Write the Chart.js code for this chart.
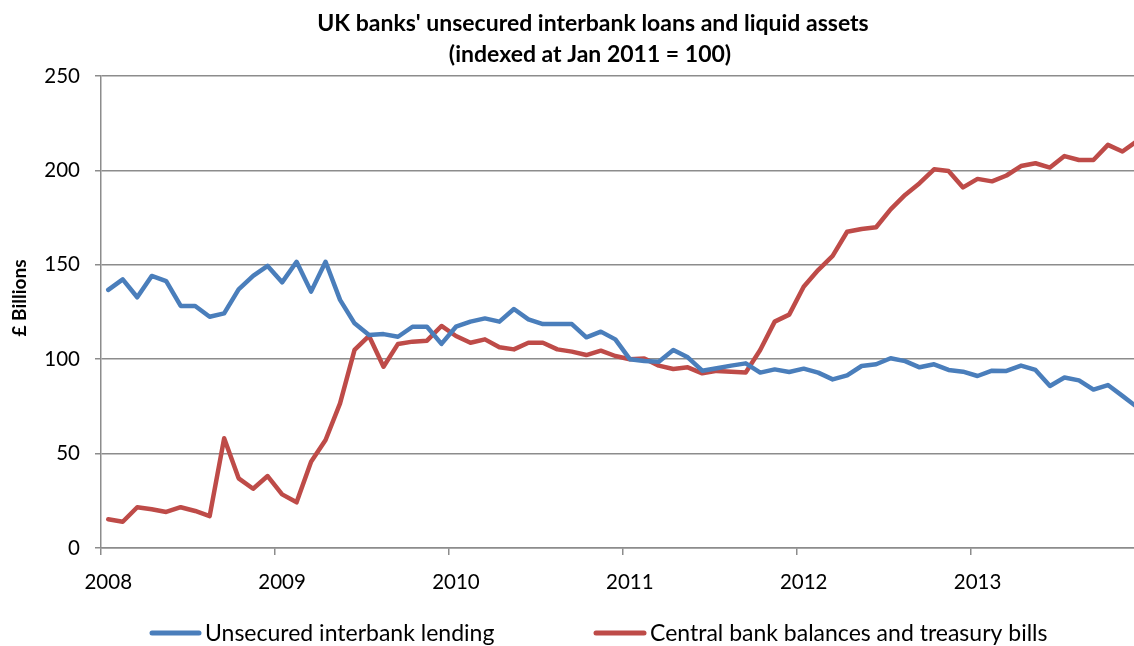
<!DOCTYPE html>
<html>
<head>
<meta charset="utf-8">
<script src="https://cdn.jsdelivr.net/npm/chart.js@4/dist/chart.umd.min.js"></script>
<style>
  html, body { margin: 0; padding: 0; background: #ffffff; }
  #chart { display: block; }
</style>
</head>
<body>
<canvas id="chart" width="1134" height="646"></canvas>
<script>
// Monthly series, Jan 2008 to Dec 2013 (index, Jan 2011 = 100)
const yearLabels = ['2008', '2009', '2010', '2011', '2012', '2013'];
const monthsPerYear = 12;

const interbankLending = [
  136.7, 142.3, 132.8, 144.1, 141.4, 128.2, 128.2, 122.5, 124.3, 137.0, 144.1, 149.4,
  140.7, 151.6, 135.8, 151.6, 131.4, 119.0, 112.8, 113.3, 111.9, 117.2, 117.2, 108.1,
  117.2, 119.9, 121.6, 119.9, 126.6, 121.1, 118.6, 118.6, 118.6, 111.6, 114.6, 110.5,
  100.0,  99.0,  98.7, 104.9, 101.0,  93.9,  95.2,  96.6,  97.8,  92.9,  94.6,  93.2,
   95.0,  92.9,  89.3,  91.4,  96.4,  97.3, 100.5,  99.0,  95.7,  97.3,  94.3,  93.4,
   91.1,  93.9,  93.8,  96.6,  94.3,  85.8,  90.3,  88.8,  83.9,  86.3,  80.6,  74.7
];

const centralBankAssets = [
   15.2,  13.9,  21.6,  20.5,  19.1,  21.6,  19.6,  16.9,  58.1,  36.9,  31.4,  38.1,
   28.4,  24.2,  45.7,  57.2,  76.6, 104.9, 112.3,  96.0, 108.1, 109.3, 109.8, 117.6,
  112.3, 108.7, 110.5, 106.3, 105.2, 108.7, 108.7, 105.2, 104.0, 102.2, 104.5, 101.7,
  100.0, 100.4,  96.6,  94.8,  95.7,  92.5,  93.8,  93.4,  93.0, 104.9, 119.9, 123.6,
  138.4, 147.2, 154.7, 167.5, 169.0, 169.9, 179.4, 187.0, 193.2, 200.6, 199.7, 191.0,
  195.5, 194.2, 197.3, 202.3, 203.8, 201.5, 207.6, 205.5, 205.5, 213.5, 210.0, 215.5
];

const seriesNames = ['Unsecured interbank lending', 'Central bank balances and treasury bills'];
const seriesColors = ['#4A7EBB', '#BE4B48'];
const titleLines = ["UK banks' unsecured interbank loans and liquid assets", '(indexed at Jan 2011 = 100)'];
const yAxisTitle = '£ Billions';
const yTickValues = [0, 50, 100, 150, 200, 250];

// Each value sits at the middle of its month on a month-count axis
const toPoints = (values) => values.map((v, i) => ({ x: i + 0.5, y: v }));

const gridColor = '#8c8c8c';
const fontFamily = 'Lato, "Open Sans", sans-serif';

// Title, rotated axis title and legend drawn on the canvas
const chartDecorations = {
  id: 'chartDecorations',
  afterDraw(chart) {
    const ctx = chart.ctx;
    ctx.save();
    ctx.fillStyle = '#000000';
    ctx.textAlign = 'center';
    ctx.textBaseline = 'middle';
    ctx.font = 'bold 23px ' + fontFamily;
    ctx.fillText(titleLines[0], 593, 24);
    ctx.fillText(titleLines[1], 590, 55);

    ctx.save();
    ctx.translate(20, 298);
    ctx.rotate(-Math.PI / 2);
    ctx.font = 'bold 19px ' + fontFamily;
    ctx.fillText(yAxisTitle, 0, 0);
    ctx.restore();

    // legend entries
    const legendY = 633;
    const entries = [
      { x0: 150, x1: 201, tx: 205 },
      { x0: 594, x1: 646, tx: 650 }
    ];
    ctx.font = '23px ' + fontFamily;
    ctx.textAlign = 'left';
    entries.forEach((e, k) => {
      const ds = chart.data.datasets[k];
      ctx.strokeStyle = ds.borderColor;
      ctx.lineWidth = 5;
      ctx.lineCap = 'round';
      ctx.beginPath();
      ctx.moveTo(e.x0 + 2, legendY);
      ctx.lineTo(e.x1 - 2, legendY);
      ctx.stroke();
      ctx.fillText(ds.label, e.tx, legendY + 1);
    });
    ctx.restore();
  }
};

new Chart(document.getElementById('chart'), {
  type: 'line',
  data: {
    datasets: [
      {
        label: seriesNames[0],
        data: toPoints(interbankLending),
        borderColor: seriesColors[0],
        backgroundColor: seriesColors[0],
        borderWidth: 4.5,
        pointRadius: 0,
        tension: 0,
        borderJoinStyle: 'round',
        borderCapStyle: 'round'
      },
      {
        label: seriesNames[1],
        data: toPoints(centralBankAssets),
        borderColor: seriesColors[1],
        backgroundColor: seriesColors[1],
        borderWidth: 4.5,
        pointRadius: 0,
        tension: 0,
        borderJoinStyle: 'round',
        borderCapStyle: 'round'
      }
    ]
  },
  options: {
    responsive: false,
    animation: false,
    devicePixelRatio: 1,
    layout: { padding: { top: 76, right: 0, bottom: 0, left: 0 } },
    plugins: {
      legend: { display: false },
      title: { display: false },
      tooltip: { enabled: false }
    },
    scales: {
      x: {
        type: 'linear',
        min: 0,
        max: 71.3,
        afterBuildTicks: (scale) => {
          scale.ticks = yearLabels.map((_, k) => ({ value: k * monthsPerYear }));
        },
        afterFit: (scale) => { scale.height = 98; },
        grid: {
          drawOnChartArea: false,
          drawTicks: true,
          tickLength: 7,
          color: gridColor,
          lineWidth: 1.5
        },
        border: { display: true, color: gridColor, width: 1.5 },
        ticks: {
          autoSkip: false,
          maxRotation: 0,
          padding: 15,
          labelOffset: 7.25,
          color: '#000000',
          font: { family: fontFamily, size: 20.5 },
          callback: (value) => yearLabels[Math.round(value / monthsPerYear)]
        }
      },
      y: {
        min: 0,
        max: 250,
        afterBuildTicks: (scale) => {
          scale.ticks = yTickValues.map((v) => ({ value: v }));
        },
        afterFit: (scale) => { scale.width = 101; },
        grid: {
          drawTicks: true,
          tickLength: 6,
          color: gridColor,
          lineWidth: 1.5
        },
        border: { display: true, color: gridColor, width: 1.5 },
        ticks: {
          padding: 15,
          color: '#000000',
          font: { family: fontFamily, size: 20.5 }
        }
      }
    }
  },
  plugins: [chartDecorations]
});
</script>
</body>
</html>
